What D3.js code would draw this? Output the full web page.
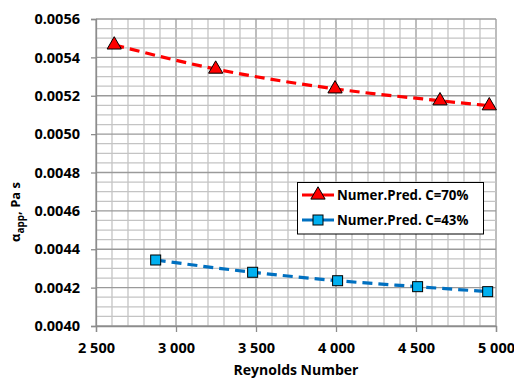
<!DOCTYPE html>
<html><head><meta charset="utf-8">
<script src="https://cdn.jsdelivr.net/npm/d3@7"></script>
<style>
body{margin:0;background:#fff;}
text{font-family:"Open Sans",sans-serif;font-weight:700;fill:#000;}
</style></head>
<body><svg id="c" width="514" height="378"></svg>
<script>
const xTicks = [2500, 3000, 3500, 4000, 4500, 5000];
const yTicks = [0.0040, 0.0042, 0.0044, 0.0046, 0.0048, 0.0050, 0.0052, 0.0054, 0.0056];
const reC70 = [2614, 3248, 3994, 4650, 4958];
const valC70 = [0.005465, 0.005339, 0.005236, 0.005174, 0.005148];
const reC43 = [2873, 3479, 4010, 4510, 4948];
const valC43 = [0.004344, 0.004280, 0.004236, 0.004205, 0.004179];
const seriesNames = ["Numer.Pred. C=70%", "Numer.Pred. C=43%"];

const svg = d3.select("#c");
const L = 96, R = 496, T = 19, B = 326;
const x = d3.scaleLinear().domain([2500, 5000]).range([L, R]);
const y = d3.scaleLinear().domain([0.0040, 0.0056]).range([B, T]);

const loc = d3.formatLocale({decimal: ".", thousands: " ", grouping: [3], currency: ["", ""]});
const fx = loc.format(",.0f");
const fy = d3.format(".4f");

// grid
const g = svg.append("g");
const minorX = d3.range(2500, 5001, 100);
const minorY = d3.range(0, 33).map(i => 0.0040 + i * 0.00005);
g.selectAll(".mx").data(minorX).join("line")
  .attr("x1", d => x(d)).attr("x2", d => x(d)).attr("y1", T).attr("y2", B)
  .attr("stroke", d => (d % 500 === 0) ? "#9a9a9a" : "#c4c4c4").attr("stroke-width", 1.3);
g.selectAll(".my").data(minorY).join("line")
  .attr("y1", d => y(d)).attr("y2", d => y(d)).attr("x1", L).attr("x2", R)
  .attr("stroke", (d, i) => (i % 4 === 0) ? "#9a9a9a" : "#c4c4c4").attr("stroke-width", 1.3);

// axes
const xa = svg.append("g").attr("transform", `translate(0,${B})`)
  .call(d3.axisBottom(x).tickValues(xTicks).tickFormat(fx).tickSizeOuter(0).tickSize(6).tickPadding(11));
const ya = svg.append("g").attr("transform", `translate(${L},0)`)
  .call(d3.axisLeft(y).tickValues(yTicks).tickFormat(fy).tickSizeOuter(0).tickSize(5).tickPadding(11));
[xa, ya].forEach(a => {
  a.select(".domain").attr("stroke", "#8c8c8c").attr("stroke-width", 1.3);
  a.selectAll(".tick line").attr("stroke", "#8c8c8c").attr("stroke-width", 1.3);
  a.selectAll("text").style("font-family", "'Open Sans',sans-serif").style("font-weight", 700)
    .style("font-size", "14.5px").attr("fill", "#000");
});

// titles
svg.append("text").attr("x", (L + R) / 2).attr("y", 375).attr("text-anchor", "middle")
  .style("font-size", "14px").text("Reynolds Number");
const yt = svg.append("text").attr("transform", "translate(20,212) rotate(-90)")
  .attr("text-anchor", "middle").style("font-size", "13px");
yt.append("tspan").text("α");
yt.append("tspan").attr("dy", 4).style("font-size", "10px").text("app");
yt.append("tspan").attr("dy", -4).text(", Pa s");

// series
const line = d3.line().x(d => x(d[0])).y(d => y(d[1])).curve(d3.curveMonotoneX);
const d70 = reC70.map((r, i) => [r, valC70[i]]);
const d43 = reC43.map((r, i) => [r, valC43[i]]);

svg.append("path").datum(d70).attr("d", line).attr("fill", "none")
  .attr("stroke", "#ff0000").attr("stroke-width", 3.2).attr("stroke-dasharray", "10,6");
svg.append("path").datum(d43).attr("d", line).attr("fill", "none")
  .attr("stroke", "#0070c0").attr("stroke-width", 3.2).attr("stroke-dasharray", "10,6");

const tri = d3.symbol().type(d3.symbolTriangle).size(88);
svg.selectAll(".t").data(d70).join("path")
  .attr("d", tri).attr("transform", d => `translate(${x(d[0])},${y(d[1])})`)
  .attr("fill", "#ff0000").attr("stroke", "#000").attr("stroke-width", 1);
svg.selectAll(".s").data(d43).join("rect")
  .attr("x", d => x(d[0]) - 5).attr("y", d => y(d[1]) - 5).attr("width", 10).attr("height", 10)
  .attr("fill", "#00b0f0").attr("stroke", "#000").attr("stroke-width", 1);

// legend
const lg = svg.append("g");
lg.append("rect").attr("x", 297.5).attr("y", 182.5).attr("width", 186).attr("height", 51.5)
  .attr("fill", "#fff").attr("stroke", "#000").attr("stroke-width", 1);
const rows = [
  {name: seriesNames[0], color: "#ff0000", y: 195, type: "tri"},
  {name: seriesNames[1], color: "#0070c0", y: 220, type: "sq"}
];
rows.forEach(r => {
  lg.append("line").attr("x1", 302).attr("x2", 334).attr("y1", r.y).attr("y2", r.y)
    .attr("stroke", r.color).attr("stroke-width", 3);
  if (r.type === "tri") {
    lg.append("path").attr("d", tri).attr("transform", `translate(318,${r.y})`)
      .attr("fill", "#ff0000").attr("stroke", "#000");
  } else {
    lg.append("rect").attr("x", 313).attr("y", r.y - 5).attr("width", 10).attr("height", 10)
      .attr("fill", "#00b0f0").attr("stroke", "#000");
  }
  lg.append("text").attr("x", 337).attr("y", r.y + 5).style("font-size", "13.3px").text(r.name);
});
</script></body></html>
